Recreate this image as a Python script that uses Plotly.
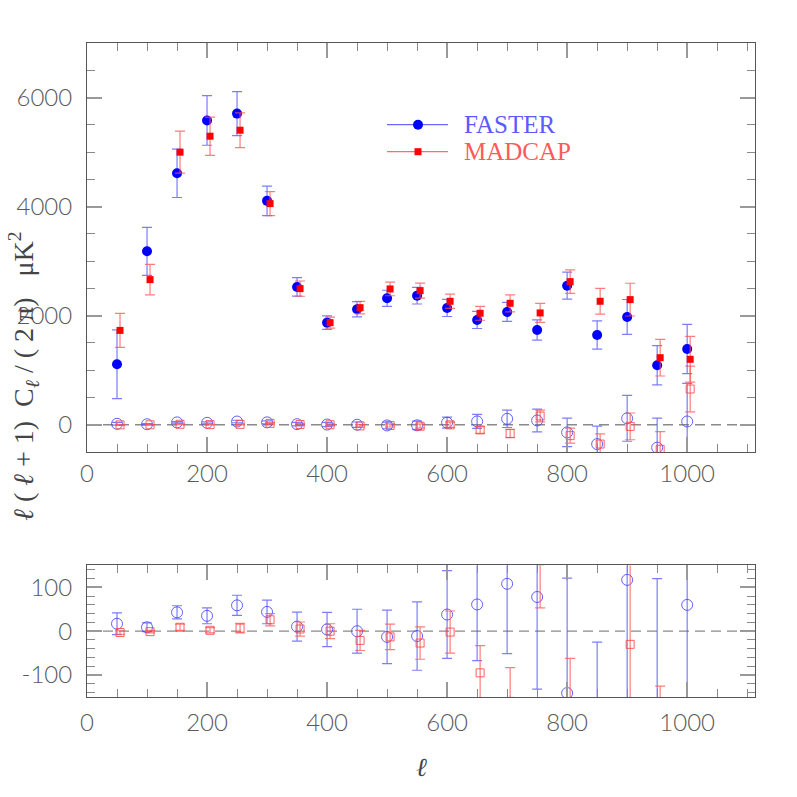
import plotly.graph_objects as go

# ---------------- data ----------------
ell_faster = [50, 100, 150, 200, 250, 300, 350, 400, 450, 500,
              550, 600, 650, 700, 750, 800, 850, 900, 950, 1000]
ell_madcap = [55, 105, 155, 205, 255, 305, 355, 405, 455, 505,
              555, 605, 655, 705, 755, 805, 855, 905, 955, 1005]

faster_cl = [1110, 3180, 4610, 5580, 5705, 4105, 2527, 1872, 2117, 2319,
             2367, 2141, 1921, 2068, 1738, 2550, 1646, 1976, 1090, 1389]
faster_err = [630, 440, 443, 455, 403, 272, 170, 125, 140, 147,
              153, 156, 156, 174, 186, 248, 260, 320, 360, 453]

madcap_cl = [1730, 2661, 4998, 5291, 5401, 4055, 2496, 1872, 2147, 2490,
             2459, 2264, 2044, 2227, 2050, 2624, 2264, 2294, 1229, 1200]
madcap_err = [312, 280, 385, 350, 318, 220, 140, 100, 115, 125,
              138, 132, 128, 156, 174, 214, 235, 300, 335, 420]

faster_diff = [17, 9, 43, 35, 59, 44, 10.5, 4, 0, -13,
               -11, 38, 61, 108, 78, -141, -355, 117, -420, 60]
faster_diff_err = [25, 10, 15, 18, 23, 27, 33, 39, 50, 61,
                   78, 100, 128, 159, 210, 262, 330, 420, 540, 700]

madcap_diff = [-3, -1, 9, 2, 7, 26, 5, 0, -21, -13,
               -27, -2, -95, -160, 160, -200, -354, -30, -450, 655]
madcap_diff_err = [4, 3, 7, 6, 11, 14, 16, 17, 23, 29,
                   37, 48, 62, 77, 107, 138, 185, 245, 325, 420]

x_ticks = [0, 200, 400, 600, 800, 1000]
top_y_ticks = [0, 2000, 4000, 6000]
bot_y_ticks = [-100, 0, 100]

# ---------------- style ----------------
BLUE = "#0000ff"
RED = "#ff0000"
BLUE_BAR = "rgba(80,80,255,0.75)"
RED_BAR = "rgba(255,80,80,0.75)"
BLUE_OPEN = "rgba(70,70,255,0.85)"
RED_OPEN = "rgba(255,70,70,0.85)"
TICKFONT = dict(family="Lato, Liberation Sans, sans-serif", size=24,
                color="#5a5a5a", weight=300)
SERIF = "Liberation Serif, DejaVu Serif, serif"

fig = go.Figure()


def add_points(x, y, err, symbol, size, color, barcolor, xa, ya, lw=0):
    fig.add_trace(go.Scatter(
        x=x, y=y, mode="markers", xaxis=xa, yaxis=ya, showlegend=False,
        marker=dict(symbol=symbol, size=size, color=color,
                    line=dict(width=lw, color=color)),
        error_y=dict(type="data", array=err, visible=True, color=barcolor,
                     thickness=1.2, width=5),
        cliponaxis=True,
    ))


for xa, ya in (("x", "y"), ("x2", "y2")):
    add_points(ell_faster, faster_diff, faster_diff_err, "circle-open", 11,
               BLUE_OPEN, BLUE_BAR, xa, ya, lw=1)
    add_points(ell_madcap, madcap_diff, madcap_diff_err, "square-open", 8,
               RED_OPEN, RED_BAR, xa, ya, lw=1)

add_points(ell_faster, faster_cl, faster_err, "circle", 10, BLUE, BLUE_BAR, "x", "y")
add_points(ell_madcap, madcap_cl, madcap_err, "square", 7, RED, RED_BAR, "x", "y")

# ---------------- layout ----------------
L, R, T, B = 87, 42, 43, 100
W = H = 797
pw = W - L - R
ph = H - T - B
top_dom = [(697.3 - 452.3) / ph, 1.0]
bot_dom = [0.0, (697.3 - 565.7) / ph]


def xaxis_cfg(anchor, standoff):
    return dict(
        domain=[0, 1], anchor=anchor, range=[0, 1113],
        tickmode="array", tickvals=x_ticks, ticktext=[str(v) for v in x_ticks],
        ticks="inside", ticklen=15, tickwidth=1.5, tickcolor="#999999",
        minor=dict(dtick=50, tick0=0, ticks="inside", ticklen=8,
                   tickwidth=1.2, tickcolor="#888888"),
        showline=True, linecolor="#555555", linewidth=1, mirror="allticks",
        showgrid=False, zeroline=False, tickfont=TICKFONT,
        ticklabelstandoff=standoff,
    )


def yaxis_cfg(anchor, dom, rng, tv, minor_dt):
    return dict(
        domain=dom, anchor=anchor, range=rng,
        tickmode="array", tickvals=tv, ticktext=[str(v) for v in tv],
        ticks="inside", ticklen=15, tickwidth=1.5, tickcolor="#999999",
        minor=dict(dtick=minor_dt, tick0=0, ticks="inside", ticklen=8,
                   tickwidth=1.2, tickcolor="#888888"),
        showline=True, linecolor="#555555", linewidth=1, mirror="allticks",
        showgrid=False, zeroline=False, tickfont=TICKFONT,
        ticklabelstandoff=9,
    )


shapes = []
for xref, yref in (("x domain", "y"), ("x2 domain", "y2")):
    shapes.append(dict(type="line", xref=xref, yref=yref, x0=0, x1=1, y0=0, y1=0,
                       line=dict(color="#8a8a8a", width=1.3, dash="10px,6px"),
                       layer="below"))


def px(xp):
    return (xp - L) / pw


def py(yp):
    return (697.3 - yp) / ph


# legend drawn by hand
leg = [("FASTER", 125, "#0000ff", "rgba(90,90,255,0.9)", "#5a5aff", "circle", 5),
       ("MADCAP", 152, "#ff0000", "rgba(255,90,90,0.9)", "#ff5a5a", "rect", 3.5)]
annotations = []
for name, yy, mcol, lcol, tcol, shp, r in leg:
    shapes.append(dict(type="line", xref="paper", yref="paper",
                       x0=px(387), x1=px(448), y0=py(yy), y1=py(yy),
                       line=dict(color=lcol, width=1.2)))
    shapes.append(dict(type=shp, xref="paper", yref="paper",
                       xsizemode="pixel", ysizemode="pixel",
                       xanchor=px(418), yanchor=py(yy),
                       x0=-r, x1=r, y0=-r, y1=r,
                       fillcolor=mcol, line=dict(color=mcol, width=0)))
    annotations.append(dict(text=name, xref="paper", yref="paper",
                            x=px(462), y=py(yy), xanchor="left", yanchor="middle",
                            showarrow=False,
                            font=dict(family=SERIF, size=25, color=tcol)))

sp = "\u00a0"
ylabel = (f"<i>ℓ</i>{sp}({sp}<i>ℓ</i>{sp}+{sp}1){sp}{sp}C<sub><i>ℓ</i></sub>"
          f"{sp}/{sp}({sp}2{sp}π){sp}{sp}{sp}μK<sup>2</sup>")
annotations.append(dict(text=ylabel, xref="paper", yref="paper",
                        x=px(24), y=py(377), xanchor="center", yanchor="middle",
                        textangle=-90, showarrow=False,
                        font=dict(family=SERIF, size=28, color="#444444")))
annotations.append(dict(text="<i>ℓ</i>", xref="paper", yref="paper",
                        x=px(421), y=py(768), xanchor="center", yanchor="middle",
                        showarrow=False,
                        font=dict(family=SERIF, size=26, color="#444444")))

fig.update_layout(
    width=W, height=H,
    margin=dict(l=L, r=R, t=T, b=B, pad=0),
    paper_bgcolor="white", plot_bgcolor="white",
    showlegend=False,
    xaxis=xaxis_cfg("y", 0),
    yaxis=yaxis_cfg("x", top_dom, [-500, 7000], top_y_ticks, 500),
    xaxis2=xaxis_cfg("y2", 4),
    yaxis2=yaxis_cfg("x2", bot_dom, [-150, 150], bot_y_ticks, 20),
    shapes=shapes,
    annotations=annotations,
)

fig.write_html("out.html", config={"displayModeBar": False},
               post_script="document.body.style.margin='0px';")
